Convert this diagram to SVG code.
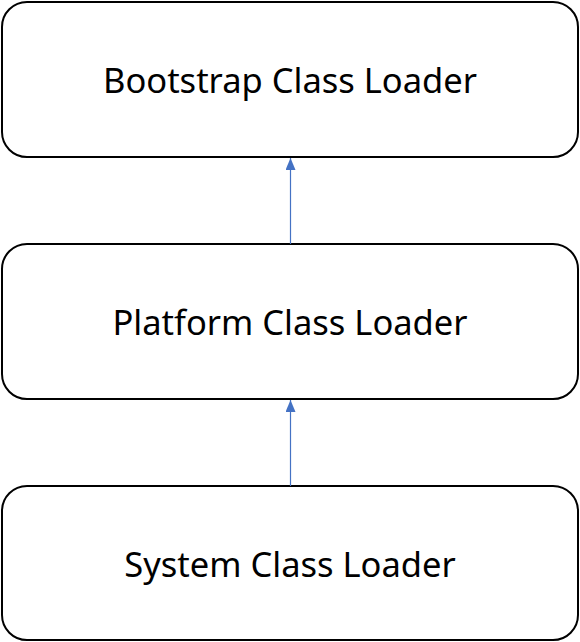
<svg xmlns="http://www.w3.org/2000/svg" width="580" height="642" viewBox="0 0 580 642">
<defs>
<style>
.box{fill:#fff;stroke:#000;stroke-width:2}
.lbl{font-family:"Noto Sans","Open Sans",sans-serif;font-size:34.5px;fill:#000;text-anchor:middle}
.conn{stroke:#4472C4;stroke-width:1.2;fill:none}
</style>
<marker id="ah" markerWidth="12" markerHeight="10" refX="12" refY="5" orient="auto" markerUnits="userSpaceOnUse" viewBox="0 0 12 10">
<path d="M0,0 L12,5 L0,10 Z" fill="#4472C4"/>
</marker>
</defs>
<rect width="580" height="642" fill="#fff"/>
<g id="bootstrap">
<rect class="box" x="2" y="2" width="576" height="155" rx="25"/>
<text class="lbl" x="290" y="93">Bootstrap Class Loader</text>
</g>
<g id="platform">
<rect class="box" x="2" y="244" width="576" height="155" rx="25"/>
<text class="lbl" x="290" y="335">Platform Class Loader</text>
</g>
<g id="system">
<rect class="box" x="2" y="486" width="576" height="154" rx="25"/>
<text class="lbl" x="290" y="577">System Class Loader</text>
</g>
<g id="connectors">
<line class="conn" x1="290.5" y1="244" x2="290.5" y2="158" marker-end="url(#ah)"/>
<line class="conn" x1="290.5" y1="486" x2="290.5" y2="400" marker-end="url(#ah)"/>
</g>
</svg>
